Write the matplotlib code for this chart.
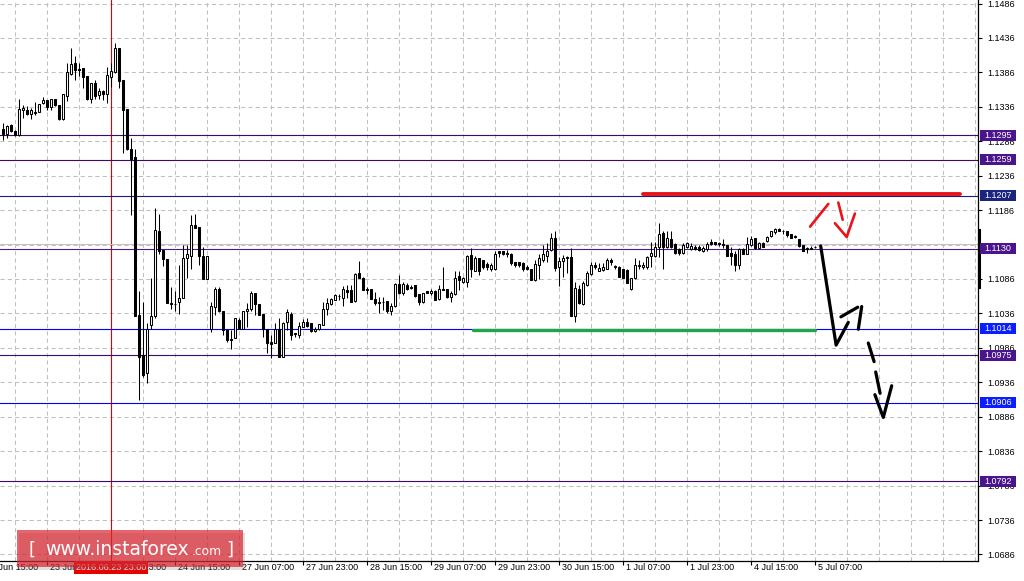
import matplotlib
matplotlib.use("Agg")
import numpy as np
from matplotlib import pyplot as plt
from matplotlib import transforms
from matplotlib.patches import Rectangle

plt.rcParams.update({'font.family': 'Liberation Sans', 'font.size': 6.5})

# EURUSD H1 candles, 22 Jun 20:00 .. 5 Jul 07:00 (bar index 0 .. 203)
opens = [
    1.1304, 1.1296, 1.1310, 1.1301, 1.1295, 1.1332, 1.1331, 1.1326, 1.1329, 1.1329,
    1.1341, 1.1346, 1.1336, 1.1347, 1.1339, 1.1318, 1.1352, 1.1384, 1.1400, 1.1391,
    1.1392, 1.1381, 1.1348, 1.1371, 1.1353, 1.1359, 1.1354, 1.1380, 1.1386, 1.1421,
    1.1375, 1.1333, 1.1275, 1.1263, 1.1034, 1.0976, 1.0949, 1.1019, 1.1032, 1.1156,
    1.1128, 1.1115, 1.1051, 1.1050, 1.1052, 1.1058, 1.1116, 1.1120, 1.1165, 1.1161,
    1.1120, 1.1086, 1.1013, 1.1046, 1.1071, 1.1040, 1.1012, 1.0999, 1.1001, 1.1027,
    1.1014, 1.1040, 1.1042, 1.1065, 1.1050, 1.1035, 1.1014, 1.0994, 1.0993, 1.1014,
    1.0973, 1.1023, 1.1035, 1.1008, 1.1004, 1.1017, 1.1024, 1.1022, 1.1011, 1.1013,
    1.1019, 1.1043, 1.1049, 1.1056, 1.1061, 1.1059, 1.1070, 1.1070, 1.1054, 1.1094,
    1.1087, 1.1071, 1.1071, 1.1057, 1.1053, 1.1053, 1.1054, 1.1040, 1.1047, 1.1079,
    1.1065, 1.1077, 1.1075, 1.1077, 1.1064, 1.1052, 1.1068, 1.1066, 1.1068, 1.1057,
    1.1072, 1.1071, 1.1060, 1.1064, 1.1090, 1.1081, 1.1082, 1.1121, 1.1097, 1.1116,
    1.1114, 1.1108, 1.1101, 1.1100, 1.1126, 1.1126, 1.1122, 1.1123, 1.1110, 1.1110,
    1.1109, 1.1104, 1.1101, 1.1085, 1.1106, 1.1114, 1.1119, 1.1128, 1.1145, 1.1104,
    1.1112, 1.1118, 1.1118, 1.1032, 1.1071, 1.1049, 1.1077, 1.1093, 1.1106, 1.1098,
    1.1099, 1.1101, 1.1114, 1.1105, 1.1103, 1.1100, 1.1099, 1.1072, 1.1087, 1.1105,
    1.1104, 1.1104, 1.1119, 1.1119, 1.1132, 1.1153, 1.1132, 1.1144, 1.1137, 1.1129,
    1.1124, 1.1133, 1.1129, 1.1133, 1.1132, 1.1126, 1.1129, 1.1139, 1.1139, 1.1138,
    1.1137, 1.1135, 1.1124, 1.1123, 1.1107, 1.1130, 1.1123, 1.1136, 1.1145, 1.1131,
    1.1138, 1.1141, 1.1148, 1.1154, 1.1159, 1.1156, 1.1155, 1.1151, 1.1148, 1.1144,
    1.1136, 1.1129, 1.1131, 1.1133]
highs = [
    1.1313, 1.1310, 1.1311, 1.1302, 1.1348, 1.1338, 1.1337, 1.1335, 1.1343, 1.1340,
    1.1350, 1.1346, 1.1348, 1.1348, 1.1339, 1.1354, 1.1399, 1.1421, 1.1410, 1.1399,
    1.1392, 1.1381, 1.1371, 1.1375, 1.1364, 1.1361, 1.1394, 1.1399, 1.1429, 1.1422,
    1.1375, 1.1333, 1.1290, 1.1275, 1.1069, 1.1053, 1.1022, 1.1087, 1.1189, 1.1181,
    1.1128, 1.1115, 1.1075, 1.1068, 1.1106, 1.1135, 1.1135, 1.1179, 1.1180, 1.1161,
    1.1133, 1.1120, 1.1052, 1.1075, 1.1074, 1.1040, 1.1012, 1.1012, 1.1029, 1.1029,
    1.1039, 1.1051, 1.1069, 1.1065, 1.1050, 1.1035, 1.1014, 1.1005, 1.1022, 1.1029,
    1.1023, 1.1043, 1.1038, 1.1008, 1.1024, 1.1028, 1.1029, 1.1022, 1.1017, 1.1020,
    1.1053, 1.1058, 1.1059, 1.1064, 1.1064, 1.1076, 1.1077, 1.1077, 1.1094, 1.1112,
    1.1089, 1.1075, 1.1071, 1.1067, 1.1060, 1.1060, 1.1054, 1.1051, 1.1080, 1.1092,
    1.1082, 1.1080, 1.1077, 1.1077, 1.1064, 1.1065, 1.1069, 1.1072, 1.1070, 1.1077,
    1.1104, 1.1071, 1.1069, 1.1097, 1.1097, 1.1089, 1.1121, 1.1131, 1.1119, 1.1116,
    1.1114, 1.1111, 1.1109, 1.1126, 1.1127, 1.1127, 1.1128, 1.1124, 1.1111, 1.1111,
    1.1110, 1.1106, 1.1101, 1.1114, 1.1123, 1.1135, 1.1138, 1.1153, 1.1155, 1.1118,
    1.1121, 1.1119, 1.1131, 1.1082, 1.1077, 1.1083, 1.1097, 1.1110, 1.1110, 1.1109,
    1.1109, 1.1117, 1.1116, 1.1106, 1.1105, 1.1100, 1.1100, 1.1088, 1.1116, 1.1113,
    1.1111, 1.1120, 1.1139, 1.1139, 1.1168, 1.1155, 1.1156, 1.1155, 1.1138, 1.1131,
    1.1138, 1.1140, 1.1138, 1.1135, 1.1135, 1.1134, 1.1139, 1.1144, 1.1140, 1.1140,
    1.1144, 1.1135, 1.1132, 1.1126, 1.1131, 1.1131, 1.1147, 1.1148, 1.1145, 1.1140,
    1.1139, 1.1149, 1.1156, 1.1160, 1.1160, 1.1157, 1.1156, 1.1152, 1.1150, 1.1144,
    1.1136, 1.1133, 1.1134, 1.1134]
lows = [
    1.1288, 1.1290, 1.1300, 1.1293, 1.1294, 1.1320, 1.1324, 1.1318, 1.1324, 1.1329,
    1.1340, 1.1332, 1.1331, 1.1337, 1.1317, 1.1317, 1.1345, 1.1382, 1.1375, 1.1381,
    1.1363, 1.1346, 1.1341, 1.1348, 1.1348, 1.1346, 1.1342, 1.1365, 1.1385, 1.1364,
    1.1269, 1.1273, 1.1179, 1.1032, 1.0910, 1.0944, 1.0935, 1.1014, 1.1029, 1.1123,
    1.1105, 1.1051, 1.1043, 1.1040, 1.1035, 1.1058, 1.1087, 1.1101, 1.1160, 1.1106,
    1.1086, 1.1086, 1.1009, 1.1034, 1.1038, 1.1004, 1.0994, 1.0984, 1.1001, 1.1014,
    1.1014, 1.1016, 1.1039, 1.1034, 1.1034, 1.1002, 1.0978, 1.0971, 1.0993, 1.0973,
    1.0973, 1.1012, 1.0997, 1.1002, 1.1000, 1.1016, 1.1017, 1.1009, 1.1009, 1.1012,
    1.1019, 1.1034, 1.1048, 1.1055, 1.1056, 1.1047, 1.1058, 1.1053, 1.1053, 1.1087,
    1.1070, 1.1064, 1.1057, 1.1048, 1.1036, 1.1041, 1.1036, 1.1034, 1.1046, 1.1064,
    1.1063, 1.1070, 1.1071, 1.1060, 1.1048, 1.1051, 1.1065, 1.1063, 1.1056, 1.1056,
    1.1070, 1.1059, 1.1052, 1.1063, 1.1070, 1.1080, 1.1074, 1.1089, 1.1097, 1.1092,
    1.1101, 1.1099, 1.1097, 1.1099, 1.1118, 1.1121, 1.1118, 1.1106, 1.1104, 1.1104,
    1.1097, 1.1099, 1.1085, 1.1083, 1.1086, 1.1111, 1.1111, 1.1127, 1.1098, 1.1076,
    1.1089, 1.1094, 1.1032, 1.1023, 1.1050, 1.1048, 1.1076, 1.1092, 1.1101, 1.1097,
    1.1098, 1.1100, 1.1106, 1.1101, 1.1089, 1.1087, 1.1080, 1.1070, 1.1086, 1.1101,
    1.1101, 1.1100, 1.1103, 1.1118, 1.1118, 1.1100, 1.1131, 1.1131, 1.1123, 1.1121,
    1.1123, 1.1131, 1.1128, 1.1128, 1.1126, 1.1125, 1.1127, 1.1135, 1.1136, 1.1134,
    1.1131, 1.1119, 1.1106, 1.1097, 1.1101, 1.1122, 1.1122, 1.1134, 1.1130, 1.1129,
    1.1132, 1.1140, 1.1147, 1.1152, 1.1155, 1.1152, 1.1147, 1.1145, 1.1145, 1.1133,
    1.1126, 1.1124, 1.1129, 1.1131]
closes = [
    1.1297, 1.1308, 1.1301, 1.1295, 1.1333, 1.1335, 1.1325, 1.1331, 1.1327, 1.1340,
    1.1346, 1.1336, 1.1348, 1.1338, 1.1318, 1.1354, 1.1387, 1.1398, 1.1389, 1.1390,
    1.1380, 1.1347, 1.1371, 1.1352, 1.1359, 1.1354, 1.1382, 1.1388, 1.1422, 1.1374,
    1.1331, 1.1275, 1.1260, 1.1032, 1.0973, 1.0947, 1.1014, 1.1032, 1.1157, 1.1126,
    1.1115, 1.1051, 1.1049, 1.1049, 1.1058, 1.1116, 1.1122, 1.1165, 1.1160, 1.1120,
    1.1086, 1.1120, 1.1047, 1.1071, 1.1040, 1.1012, 1.0998, 1.0998, 1.1029, 1.1014,
    1.1039, 1.1042, 1.1066, 1.1050, 1.1034, 1.1013, 1.0993, 1.0991, 1.1014, 1.0973,
    1.1022, 1.1038, 1.1005, 1.1006, 1.1018, 1.1023, 1.1018, 1.1011, 1.1014, 1.1020,
    1.1042, 1.1051, 1.1057, 1.1063, 1.1061, 1.1071, 1.1067, 1.1053, 1.1093, 1.1087,
    1.1070, 1.1070, 1.1057, 1.1051, 1.1051, 1.1052, 1.1040, 1.1047, 1.1079, 1.1065,
    1.1079, 1.1072, 1.1073, 1.1061, 1.1052, 1.1065, 1.1066, 1.1068, 1.1056, 1.1071,
    1.1070, 1.1060, 1.1065, 1.1088, 1.1085, 1.1087, 1.1119, 1.1101, 1.1116, 1.1097,
    1.1104, 1.1104, 1.1107, 1.1123, 1.1124, 1.1123, 1.1124, 1.1109, 1.1107, 1.1106,
    1.1101, 1.1100, 1.1085, 1.1108, 1.1116, 1.1122, 1.1127, 1.1145, 1.1102, 1.1112,
    1.1117, 1.1116, 1.1032, 1.1073, 1.1051, 1.1080, 1.1094, 1.1107, 1.1104, 1.1102,
    1.1104, 1.1114, 1.1111, 1.1103, 1.1089, 1.1088, 1.1080, 1.1087, 1.1107, 1.1107,
    1.1107, 1.1118, 1.1124, 1.1132, 1.1152, 1.1132, 1.1145, 1.1133, 1.1124, 1.1124,
    1.1136, 1.1138, 1.1134, 1.1130, 1.1128, 1.1131, 1.1137, 1.1137, 1.1137, 1.1137,
    1.1136, 1.1120, 1.1119, 1.1106, 1.1129, 1.1123, 1.1137, 1.1144, 1.1131, 1.1138,
    1.1133, 1.1147, 1.1155, 1.1158, 1.1156, 1.1155, 1.1150, 1.1146, 1.1147, 1.1134,
    1.1127, 1.1131, 1.1130, 1.1132]

time_label_bars = [-5, 11, 27, 43, 59, 75, 91, 107, 123, 139, 155, 171, 187, 203]
time_labels = ["22 Jun 15:00", "23 Jun 07:00", "23 Jun 23:00", "24 Jun 15:00",
               "27 Jun 07:00", "27 Jun 23:00", "28 Jun 15:00", "29 Jun 07:00",
               "29 Jun 23:00", "30 Jun 15:00", "1 Jul 07:00", "1 Jul 23:00",
               "4 Jul 15:00", "5 Jul 07:00"]
price_ticks = [1.1486, 1.1436, 1.1386, 1.1336, 1.1286, 1.1236, 1.1186, 1.1136,
               1.1086, 1.1036, 1.0986, 1.0936, 1.0886, 1.0836, 1.0786, 1.0736, 1.0686]
hidden_tick = 1.1136   # fully covered by the 1.1130 level label

levels = [1.1295, 1.1259, 1.1207, 1.1130, 1.1014, 1.0975, 1.0906, 1.0792]
level_line_colors = ['#3c0a6a', '#3c0a6a', '#1a1a7a', '#4b1a86', '#0000ff', '#3c0a6a', '#0000ff', '#3c0a6a']
level_box_colors = ['#4a148c', '#4a148c', '#1a237e', '#4a148c', '#0a1eff', '#4a148c', '#0a1eff', '#4a148c']

marked_bar = 27
marked_label = "2016.06.23 23:00"

# hand drawn marks: (bar, price)
resistance = [(159.9, 1.1209), (239.2, 1.1209)]
support = [(117.4, 1.1012), (202.9, 1.1012)]
red_up = [(201.7, 1.1162), (206.25, 1.1195)]
red_down = [(208.75, 1.1197), (209.85, 1.1172)]
red_head = [(207.9, 1.1167), (210.85, 1.1147), (212.9, 1.1181)]
black_main = [(204.35, 1.1134), (208.2, 1.0990), (211.25, 1.1023)]
black_head1 = [(209.4, 1.1031), (213.6, 1.1045)]
black_head2 = [(214.6, 1.1046), (213.75, 1.1013)]
black_dash1 = [(216.25, 1.0993), (217.7, 1.0966)]
black_dash2 = [(218.1, 1.0951), (219.2, 1.0920)]
black_v = [(217.9, 1.0918), (220.0, 1.0885), (222.1, 1.0931)]

W, H = 1024, 581
XLIM = (-0.825, 243.675)
YLIM = (1.06765, 1.14911)
fig = plt.figure(figsize=(W / 100, H / 100), dpi=100)
ax = fig.add_axes([0, 20 / H, 978 / W, 561 / H])

for s in ['top', 'left']:
    ax.spines[s].set_visible(False)
for s in ['right', 'bottom']:
    ax.spines[s].set_linewidth(0.9)
    ax.spines[s].set_zorder(8)

# grid
for p in price_ticks:
    ax.axhline(p, color='#c0c0c0', lw=0.75, dashes=(4, 3), zorder=0)
for gx in np.arange(3, 244, 8):
    ax.axvline(gx, color='#c0c0c0', lw=0.75, dashes=(4, 3), zorder=0)

ax.axvline(marked_bar, color='#e00000', lw=0.8, zorder=1)

# levels
for lv, lc in zip(levels, level_line_colors):
    ax.axhline(lv, color=lc, lw=0.8, zorder=1)
ax.axhline(1.1137, color='#c4c4c4', lw=0.8, zorder=1)

# candles
o = np.array(opens)
c = np.array(closes)
idx = np.arange(len(c))
ax.vlines(idx, lows, highs, color='black', lw=0.75, zorder=3)
fill = ['white' if cc > oo else 'black' for oo, cc in zip(o, c)]
ax.bar(idx, c - o, bottom=o, width=0.55, color=fill, edgecolor='black', linewidth=0.75, zorder=4)

# drawn marks
def draw(pts, color, lw):
    xs, ys = zip(*pts)
    ax.plot(xs, ys, color=color, lw=lw, solid_capstyle='round', solid_joinstyle='round', zorder=6)

draw(resistance, '#e8141c', 2.8)
draw(support, '#1fa64a', 2.4)
for pts in (red_up, red_down, red_head):
    draw(pts, '#e8141c', 1.9)
for pts in (black_main, black_head1, black_head2, black_dash1, black_dash2, black_v):
    draw(pts, 'black', 2.3)

# axes ticks
ax.yaxis.tick_right()
ax.set_yticks(price_ticks)
ax.set_yticklabels(['' if p == hidden_tick else '%.4f' % p for p in price_ticks])
ax.tick_params(axis='y', direction='out', length=3, width=0.8, pad=4, labelsize=6.5)
ax.set_xticks(time_label_bars)
ax.set_xticklabels([])
ax.tick_params(axis='x', direction='out', length=3, width=0.8)
ax.set_xlim(*XLIM)
ax.set_ylim(*YLIM)

bx = transforms.blended_transform_factory(ax.transData, ax.transAxes)
for b, lab in zip(time_label_bars, time_labels):
    ax.text(b + 0.55, -6.5 / 561, lab, transform=bx, ha='left', va='center',
            fontsize=6.5, clip_on=False)
ax.text(marked_bar, -6.5 / 561, marked_label, transform=bx, ha='center', va='center',
        fontsize=6.5, color='white', clip_on=False, zorder=12,
        bbox=dict(boxstyle='square,pad=0.2', fc='#e60000', ec='none'))

# level labels on price scale
by = transforms.blended_transform_factory(ax.transAxes, ax.transData)
hbox = 11 * (YLIM[1] - YLIM[0]) / 561
for lv, bc in zip(levels, level_box_colors):
    ax.add_patch(Rectangle((980 / 978, lv - hbox / 2), 36 / 978, hbox, transform=by,
                           fc=bc, ec='none', clip_on=False, zorder=10))
    ax.text(998 / 978, lv, '%.4f' % lv, transform=by, ha='center', va='center',
            color='white', fontsize=6.5, clip_on=False, zorder=11)
ax.plot([1.0006, 1.0006], [1.1074, 1.1157], transform=by, color='black', lw=2.2,
        clip_on=False, zorder=9)

# watermark
fig.patches.append(Rectangle((19 / W, 11 / H), 226 / W, 37 / H, transform=fig.transFigure,
                             fc='#808080', ec='none', alpha=0.25, zorder=20))
fig.patches.append(Rectangle((17 / W, 14 / H), 226 / W, 37 / H, transform=fig.transFigure,
                             fc='#dc1e28', ec='none', alpha=0.68, zorder=21))
wm = dict(color='white', family='DejaVu Sans', va='baseline', zorder=22)
fig.text(29 / W, 26 / H, '[', fontsize=13, **wm)
fig.text(45 / W, 26 / H, 'www.instaforex', fontsize=13.5, **wm)
fig.text(192 / W, 26 / H, '.com', fontsize=8.8, **wm)
fig.text(226 / W, 26 / H, ']', fontsize=13, **wm)

fig.savefig('out.png', dpi=100, facecolor='white')
